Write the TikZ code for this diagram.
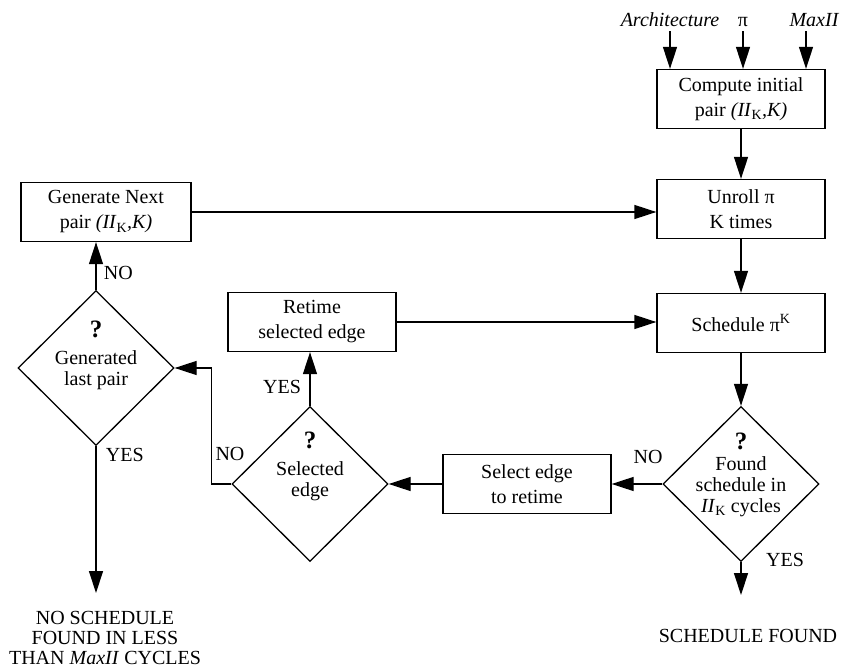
\documentclass[tikz,border=0pt]{standalone}
\usepackage{fontspec}
\setmainfont{Liberation Serif}
\usetikzlibrary{arrows.meta,shapes.geometric}

\begin{document}
\begin{tikzpicture}[x=1pt, y=-1pt, line width=1.3pt, font=\fontsize{20}{25}\selectfont,
	box/.style={draw, minimum width=168pt, minimum height=59pt, align=center, inner sep=2pt},
	decision/.style={draw, diamond, minimum width=156pt, minimum height=155pt, inner sep=0pt},
	qtext/.style={align=center, font=\fontsize{20}{21}\selectfont},
	flow/.style={-{Triangle[length=22pt,width=14pt]}}]
	\useasboundingbox (0,0) rectangle (844,668);
	\node[anchor=base, font=\fontsize{20}{25}\selectfont\itshape] (arch) at (670,27) {Architecture};
	\node[anchor=base] (pi) at (743,27) {π};
	\node[anchor=base, font=\fontsize{20}{25}\selectfont\itshape] (maxii) at (814,27) {MaxII};
	\node[box] (init) at (741,99) {Compute initial\\pair \textit{(II}\textsubscript{K}\textit{,K)}};
	\node[box] (unroll) at (741,209) {Unroll π\\K times};
	\node[box] (sched) at (741,323) {Schedule π\textsuperscript{K}};
	\node[decision] (found) at (741,484) {};
	\node[qtext] (foundtxt) at (741,475) {{\fontsize{25}{21}\selectfont\bfseries ?}\\Found\\schedule in\\\textit{II}\textsubscript{K} cycles};
	\node[box] (select) at (527,484) {Select edge\\to retime};
	\node[decision] (selected) at (310,484) {};
	\node[qtext] (selectedtxt) at (310,466) {{\fontsize{25}{21}\selectfont\bfseries ?}\\[6pt]Selected\\edge};
	\node[box] (retime) at (312,322) {Retime\\selected edge};
	\node[box, minimum width=170pt] (gen) at (106,212) {Generate Next\\pair \textit{(II}\textsubscript{K}\textit{,K)}};
	\node[decision] (last) at (96,368) {};
	\node[qtext] (lasttxt) at (96,355) {{\fontsize{25}{21}\selectfont\bfseries ?}\\[6pt]Generated\\last pair};
	\coordinate (okend) at (741,595);
	\coordinate (failend) at (96,593);
	\node (ok) at (748,636) {SCHEDULE FOUND};
	\node[align=center, font=\fontsize{20}{20}\selectfont] (fail) at (105,638) {NO SCHEDULE\\FOUND IN LESS\\THAN \textit{MaxII} CYCLES};
	\node[anchor=west] (nolast) at (100,273) {NO};
	\node[anchor=west] (yeslast) at (102,455) {YES};
	\node (nosel) at (230,454) {NO};
	\node (yessel) at (282,387) {YES};
	\node (nofound) at (648,457) {NO};
	\node (yesfound) at (785,560) {YES};
	\draw[flow] (arch.south) -- (arch.south |- init.north);
	\draw[flow] (pi.south) -- (pi.south |- init.north);
	\draw[flow] ([xshift=-8pt]maxii.south) -- ([xshift=-8pt]maxii.south |- init.north);
	\draw[flow] (init) -- (unroll);
	\draw[flow] (unroll) -- (sched);
	\draw[flow] (sched) -- (found);
	\draw[flow] (found.south) -- (okend);
	\draw[flow] (gen.east) -- (gen.east -| unroll.west);
	\draw[flow] (retime.east) -- (retime.east -| sched.west);
	\draw[flow] (found) -- (select);
	\draw[flow] (select) -- (selected);
	\draw[flow] (selected.north) -- (selected.north |- retime.south);
	\draw[flow] (selected.west) -- ++(-20,0) |- (last.east);
	\draw[flow] (last.north) -- (last.north |- gen.south);
	\draw[flow] (last.south) -- (failend);
\end{tikzpicture}
\end{document}
